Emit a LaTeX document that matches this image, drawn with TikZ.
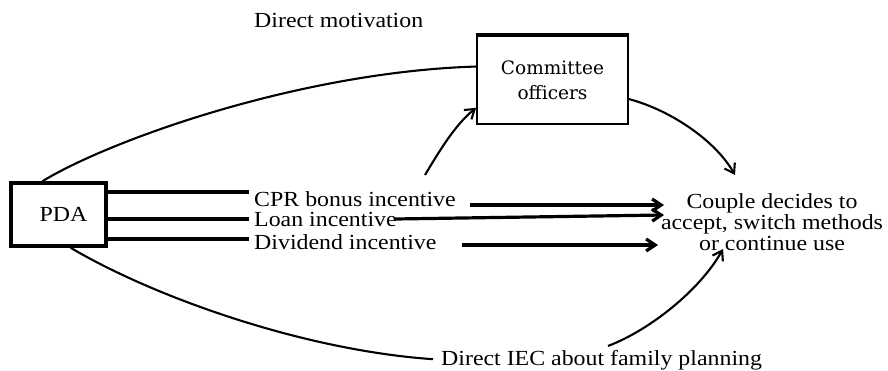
\documentclass[tikz,border=0pt]{standalone}
\usepackage{fontspec}
\setmainfont[FakeStretch=1.11]{Liberation Serif}
\newfontfamily\comfont{DejaVu Serif}
\usetikzlibrary{arrows.meta}
\begin{document}
\begin{tikzpicture}[x=1pt,y=-1pt,
  lbl/.style={inner sep=0pt, font=\fontsize{21.5}{21}\selectfont},
  boxnode/.style={draw, inner sep=0pt},
  tip/.style={-{Straight Barb[length=9pt,width=12pt]}},
  curve/.style={line width=2.1pt},
  hline/.style={line width=3.2pt}]
\useasboundingbox (0,0) rectangle (888,371);

% boxes
\node[boxnode, line width=3.4pt, minimum width=95pt, minimum height=63pt,
      font=\fontsize{21.5}{21}\selectfont] (pda) at (58.5,214.5) {\hspace*{10pt}PDA};
\node[boxnode, line width=1.8pt, minimum width=151pt, minimum height=88pt, align=center,
      font=\comfont\fontsize{18.5}{25}\selectfont] (com) at (552.5,80) {Committee\\officers};
\draw[line width=3.4pt] (com.north west) -- (com.north east);

% labels
\node[lbl, anchor=base west] (dm) at (254,28) {Direct motivation};
\node[lbl, anchor=base west] (cpr) at (254,207) {CPR bonus incentive};
\node[lbl, anchor=base west] (loan) at (254,227) {Loan incentive};
\node[lbl, anchor=base west] (div) at (254,250) {Dividend incentive};
\node[lbl, anchor=base west] (iec) at (441,365) {Direct IEC about family planning};
\node[lbl, align=center, anchor=north] (couple) at (772,193)
  {Couple decides to\\accept, switch methods\\or continue use};

% lines from PDA
\coordinate (l1) at (249,192);
\coordinate (l2) at (249,219);
\coordinate (l3) at (249,239);
\draw[hline] (pda.east |- l1) -- (l1);
\draw[hline] (pda.east |- l2) -- (l2);
\draw[hline] (pda.east |- l3) -- (l3);

% incentive arrows
\coordinate (a1s) at (470,205);
\coordinate (a1e) at (664,205);
\coordinate (a2s) at (395,219);
\coordinate (a2e) at (664,215);
\coordinate (a3s) at (462,245);
\coordinate (a3e) at (658,245);
\draw[hline, tip] (a1s) -- (a1e);
\draw[hline, tip] (a2s) -- (a2e);
\draw[hline, tip] (a3s) -- (a3e);

% curves
\coordinate (s2) at (425,175);
\coordinate (e3) at (735,175);
\coordinate (s5) at (608,346);
\coordinate (e5) at (723,249);
\draw[curve] (pda.116) .. controls (110,140) and (300,72) .. (com.170);
\draw[curve, tip] (s2) .. controls (440,150) and (455,125) .. (com.200);
\draw[curve, tip] (com.-14) .. controls (670,110) and (715,140) .. (e3);
\draw[curve, shorten >=8pt] (pda.-70) .. controls (150,295) and (300,350) .. (iec.west);
\draw[curve, tip] (s5) .. controls (650,330) and (700,290) .. (e5);
\end{tikzpicture}
\end{document}
